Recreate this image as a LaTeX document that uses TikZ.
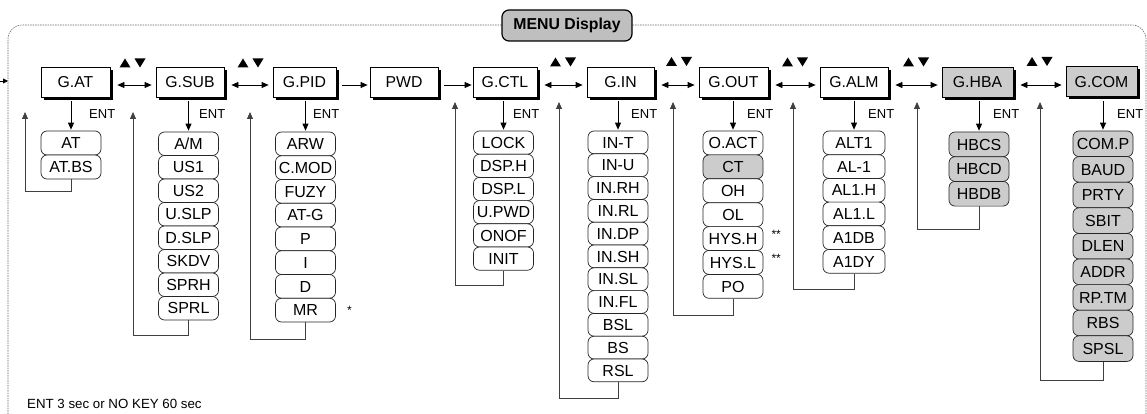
\documentclass[tikz,border=0pt]{standalone}
\usepackage{fontspec}
\setmainfont{Liberation Sans}
\usetikzlibrary{arrows.meta,shadows}
\tikzset{
  mbox/.style={draw=black, line width=0.8pt, fill=white, minimum height=30pt, inner sep=0pt,
    font=\fontsize{15.8}{18}\selectfont, text height=11.3pt, text depth=0pt,
    drop shadow={shadow xshift=3pt, shadow yshift=-3pt, fill=black, opacity=1}},
  gbox/.style={mbox, fill=black!20},
  item/.style={draw=black!85, line width=0.7pt, rounded corners=6pt, fill=white, minimum width=60pt,
    inner sep=0pt, font=\fontsize{16}{18}\selectfont, text height=11.4pt, text depth=0pt},
  gitem/.style={item, fill=black!20},
  arr/.style={-{Triangle[length=7pt,width=6pt]}, line width=0.8pt},
  dbl/.style={{Triangle[length=7pt,width=6pt]}-{Triangle[length=7pt,width=6pt]}, line width=0.8pt},
  ret/.style={-{Triangle[length=7pt,width=6pt]}, line width=0.8pt, draw=black!75},
  entl/.style={font=\fontsize{13}{15}\selectfont, anchor=west, inner sep=0pt},
  starl/.style={font=\fontsize{12}{14}\selectfont, anchor=west, inner sep=0pt},
  frame/.style={draw=black!60, line width=0.6pt, dash pattern=on 1.5pt off 1pt, rounded corners=14pt},
  titlebox/.style={draw=black, line width=1.2pt, fill=black!25, rounded corners=7pt, minimum width=130pt,
    minimum height=31pt, inner sep=0pt, font=\bfseries\fontsize{15.8}{18}\selectfont},
  updn/.pic={\fill (-13,4.5) -- (-2,4.5) -- (-7.5,-4.5) -- cycle;
             \fill (2,-4.5) -- (13,-4.5) -- (7.5,4.5) -- cycle;}
}
\begin{document}
\begin{tikzpicture}[x=1pt,y=-1pt]
\useasboundingbox (0,0) rectangle (1147,414);
% frame and title
\draw[frame] (8,414) -- (8,25) -- (1146,25) -- (1146,414);
\node[titlebox] (title) at (567,25.5) {MENU Display};
\coordinate (ein) at (0,81);
\coordinate (eout) at (8,81);
\draw[-{Triangle[length=5pt,width=5pt]}, line width=0.8pt] (ein) -- (eout);
% main boxes
\node[mbox, minimum width=69pt] (gat) at (75.5,82) {G.AT};
\node[mbox, minimum width=68pt] (gsub) at (190,82) {G.SUB};
\node[mbox, minimum width=63pt] (gpid) at (304.5,82) {G.PID};
\node[mbox, minimum width=68pt] (pwd) at (404,82) {PWD};
\node[mbox, minimum width=64pt] (gctl) at (505,82) {G.CTL};
\node[mbox, minimum width=67pt] (gin) at (620.5,82) {G.IN};
\node[mbox, minimum width=69pt] (gout) at (733.5,82) {G.OUT};
\node[mbox, minimum width=68pt] (galm) at (854,82) {G.ALM};
\node[gbox, minimum width=71pt] (ghba) at (977.5,82) {G.HBA};
\node[gbox, minimum width=71pt] (gcom) at (1101.5,81.5) {G.COM};
% horizontal arrows
\draw[dbl] ([xshift=7pt,yshift=-3pt]gat.east) -- ([xshift=-4pt,yshift=-3pt]gsub.west);
\draw[dbl] ([xshift=7pt,yshift=-3pt]gsub.east) -- ([xshift=-4pt,yshift=-3pt]gpid.west);
\draw[arr] ([xshift=6pt,yshift=-3pt]gpid.east) -- ([xshift=-2pt,yshift=-3pt]pwd.west);
\draw[arr] ([xshift=6pt,yshift=-3pt]pwd.east) -- ([xshift=-1pt,yshift=-3pt]gctl.west);
\draw[dbl] ([xshift=7pt,yshift=-3pt]gctl.east) -- ([xshift=-4pt,yshift=-3pt]gin.west);
\draw[dbl] ([xshift=7pt,yshift=-3pt]gin.east) -- ([xshift=-4pt,yshift=-3pt]gout.west);
\draw[dbl] ([xshift=7pt,yshift=-3pt]gout.east) -- ([xshift=-4pt,yshift=-3pt]galm.west);
\draw[dbl] ([xshift=7pt,yshift=-3pt]galm.east) -- ([xshift=-4pt,yshift=-3pt]ghba.west);
\draw[dbl] ([xshift=7pt,yshift=-3pt]ghba.east) -- ([xshift=-4pt,yshift=-3.5pt]gcom.west);
% up/down marks
\pic at (132.5,63) {updn};
\pic at (250.5,63) {updn};
\pic at (563,62) {updn};
\pic at (679,61.5) {updn};
\pic at (795,62) {updn};
\pic at (916,62) {updn};
\pic at (1039.5,61.5) {updn};
% stacks
\foreach \t [count=\i] in {AT,AT.BS}
  \node[item, minimum height=24pt] (at\i) at (71,{131+(\i-0.5)*24}) {\t};
\foreach \t [count=\i] in {A/M,US1,US2,U.SLP,D.SLP,SKDV,SPRH,SPRL}
  \node[item, minimum height=23.5pt] (sub\i) at (188.5,{132+(\i-0.5)*23.5}) {\t};
\foreach \t [count=\i] in {ARW,C.MOD,FUZY,AT-G,P,I,D,MR}
  \node[item, minimum height=23.75pt] (pid\i) at (305.5,{132+(\i-0.5)*23.75}) {\t};
\foreach \t [count=\i] in {LOCK,DSP.H,DSP.L,U.PWD,ONOF,INIT}
  \node[item, minimum height=23.2pt] (ctl\i) at (503.5,{131+(\i-0.5)*23.2}) {\t};
\foreach \t [count=\i] in {IN-T,IN-U,IN.RH,IN.RL,IN.DP,IN.SH,IN.SL,IN.FL,BSL,BS,RSL}
  \node[item, minimum height=22.8pt] (in\i) at (618,{131+(\i-0.5)*22.8}) {\t};
\foreach \t/\s [count=\i] in {O.ACT/item,CT/gitem,OH/item,OL/item,HYS.H/item,HYS.L/item,PO/item}
  \node[\s, minimum height=23.9pt] (out\i) at (733,{131+(\i-0.5)*23.9}) {\t};
\foreach \t [count=\i] in {ALT1,AL-1,AL1.H,AL1.L,A1DB,A1DY}
  \node[item, minimum height=23.7pt, minimum width=62pt] (alm\i) at (854,{131+(\i-0.5)*23.7}) {\t};
\foreach \t [count=\i] in {HBCS,HBCD,HBDB}
  \node[gitem, minimum height=24.7pt] (hba\i) at (979,{132+(\i-0.5)*24.7}) {\t};
\foreach \t [count=\i] in {COM.P,BAUD,PRTY,SBIT,DLEN,ADDR,RP.TM,RBS,SPSL}
  \node[gitem, minimum height=25.6pt] (com\i) at (1103,{131+(\i-0.5)*25.6}) {\t};
% ENT arrows
\draw[arr, shorten <=4pt, shorten >=1pt] (gat.south -| at1.north) -- (at1.north);
\draw[arr, shorten <=4pt, shorten >=1pt] (gsub.south -| sub1.north) -- (sub1.north);
\draw[arr, shorten <=4pt, shorten >=1pt] (gpid.south -| pid1.north) -- (pid1.north);
\draw[arr, shorten <=4pt, shorten >=1pt] (gctl.south -| ctl1.north) -- (ctl1.north);
\draw[arr, shorten <=4pt, shorten >=1pt] (gin.south -| in1.north) -- (in1.north);
\draw[arr, shorten <=4pt, shorten >=1pt] (gout.south -| out1.north) -- (out1.north);
\draw[arr, shorten <=4pt, shorten >=1pt] (galm.south -| alm1.north) -- (alm1.north);
\draw[arr, shorten <=4pt, shorten >=1pt] (ghba.south -| hba1.north) -- (hba1.north);
\draw[arr, shorten <=4pt, shorten >=1pt] (gcom.south -| com1.north) -- (com1.north);
\node[entl] (e1) at (89,114) {ENT};
\node[entl] (e2) at (199,114) {ENT};
\node[entl] (e3) at (313,114) {ENT};
\node[entl] (e4) at (513,114) {ENT};
\node[entl] (e5) at (631,114) {ENT};
\node[entl] (e6) at (747,114) {ENT};
\node[entl] (e7) at (868,114) {ENT};
\node[entl] (e8) at (993,114) {ENT};
\node[entl] (e9) at (1117,114) {ENT};
% return lines
\coordinate (atr) at (25,191);   \coordinate (att) at (25,112);
\coordinate (subr) at (133,335); \coordinate (subt) at (133,112);
\coordinate (pidr) at (250,339); \coordinate (pidt) at (250,112);
\coordinate (ctlr) at (455,285); \coordinate (ctlt) at (455,102);
\coordinate (inr) at (559,398);  \coordinate (int) at (559,102);
\coordinate (outr) at (673,315); \coordinate (outt) at (673,102);
\coordinate (almr) at (793,289); \coordinate (almt) at (793,102);
\coordinate (hbar) at (917,229); \coordinate (hbat) at (917,102);
\coordinate (comr) at (1040,380); \coordinate (comt) at (1040,102);
\draw[ret] (at2.south) |- (atr) -- (att);
\draw[ret] (sub8.south) |- (subr) -- (subt);
\draw[ret] (pid8.south) |- (pidr) -- (pidt);
\draw[ret] (ctl6.south) |- (ctlr) -- (ctlt);
\draw[ret] (in11.south) |- (inr) -- (int);
\draw[ret] (out7.south) |- (outr) -- (outt);
\draw[ret] (alm6.south) |- (almr) -- (almt);
\draw[ret] (hba3.south) |- (hbar) -- (hbat);
\draw[ret] (com9.south) |- (comr) -- (comt);
% notes
\node[starl] (s1) at ([xshift=11pt]pid8.east) {*};
\node[starl] (s2) at ([xshift=8pt,yshift=4pt]out5.east) {**};
\node[starl] (s3) at ([xshift=8pt,yshift=4pt]out6.east) {**};
\node[anchor=west, inner sep=0pt, font=\fontsize{13.3}{15}\selectfont] (foot) at (27,404) {ENT 3 sec or NO KEY 60 sec};
\end{tikzpicture}
\end{document}
